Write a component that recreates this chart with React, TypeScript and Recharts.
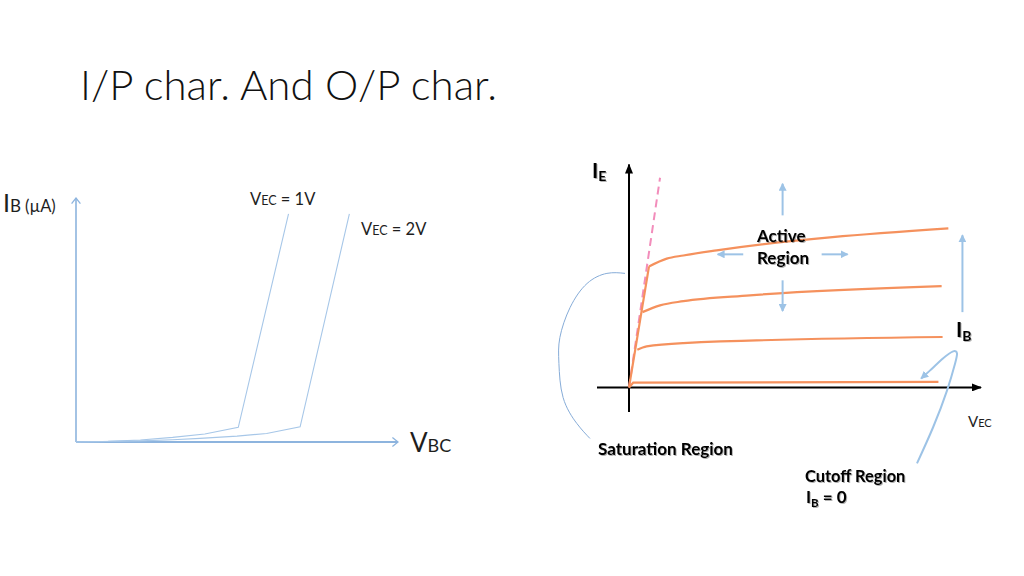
import React from 'react';
import { LineChart, Line, XAxis, YAxis } from 'recharts';

// ---------- Input characteristics (left): IB (µA) vs VBC (V) ----------
const inVec1V = [
  { x: 0, y: 0 },
  { x: 0.1, y: 0.25 },
  { x: 0.2, y: 0.8 },
  { x: 0.3, y: 1.9 },
  { x: 0.4, y: 3.3 },
  { x: 0.504, y: 6.0 },
  { x: 0.66, y: 93.5 },
];
const inVec2V = [
  { x: 0, y: 0 },
  { x: 0.2, y: 0.45 },
  { x: 0.3, y: 0.95 },
  { x: 0.385, y: 1.5 },
  { x: 0.5, y: 2.4 },
  { x: 0.592, y: 3.5 },
  { x: 0.696, y: 6.2 },
  { x: 0.849, y: 93.5 },
];
const inAxisY = [{ x: 0, y: 0 }, { x: 0, y: 100 }];
const inAxisX = [{ x: 0, y: 0 }, { x: 1, y: 0 }];

// ---------- Output characteristics (right): IE vs VEC ----------
const outSatEdge = [{ x: 0, y: 0 }, { x: 0.625, y: 5.4 }];
const outIb3 = [
  { x: 0.625, y: 5.4 },
  { x: 1.18, y: 5.75 },
  { x: 1.7, y: 5.89 },
  { x: 2.74, y: 6.12 },
  { x: 9.98, y: 7.1 },
];
const outIb2 = [
  { x: 0.42, y: 3.36 },
  { x: 0.97, y: 3.66 },
  { x: 1.7, y: 3.85 },
  { x: 3.78, y: 4.11 },
  { x: 9.77, y: 4.52 },
];
const outIb1 = [
  { x: 0.26, y: 1.68 },
  { x: 0.55, y: 1.83 },
  { x: 1.7, y: 1.98 },
  { x: 9.8, y: 2.25 },
];
const outIb0 = [
  { x: 0, y: 0 },
  { x: 0.13, y: 0.21 },
  { x: 9.67, y: 0.25 },
];
const outSatLimit = [{ x: 0, y: 0 }, { x: 0.97, y: 9.36 }];
const outAxisX = [{ x: -1, y: 0 }, { x: 11, y: 0 }];
const outAxisY = [{ x: 0, y: -1.1 }, { x: 0, y: 9.95 }];

// annotation arrows
const arrowUp = [{ x: 4.8, y: 7.68 }, { x: 4.8, y: 9.09 }];
const arrowDown = [{ x: 4.8, y: 4.78 }, { x: 4.8, y: 3.41 }];
const arrowLeft = [{ x: 3.57, y: 5.94 }, { x: 2.77, y: 5.94 }];
const arrowRight = [{ x: 6.02, y: 5.94 }, { x: 6.83, y: 5.94 }];
const arrowIb = [{ x: 10.42, y: 3.36 }, { x: 10.42, y: 6.79 }];
const cutoffHook = [
  { x: 9.0, y: -3.39 },
  { x: 9.5, y: -1.79 },
  { x: 9.94, y: -0.13 },
  { x: 10.19, y: 1.07 },
  { x: 10.25, y: 1.52 },
  { x: 10.13, y: 1.61 },
  { x: 9.81, y: 1.29 },
  { x: 9.41, y: 0.76 },
  { x: 9.13, y: 0.4 },
];
const satBrace = [
  { x: -0.125, y: 5.09 },
  { x: -0.69, y: 5.09 },
  { x: -1.31, y: 4.64 },
  { x: -1.84, y: 3.57 },
  { x: -2.16, y: 2.23 },
  { x: -2.19, y: 1.07 },
  { x: -2.06, y: -0.45 },
  { x: -1.63, y: -1.61 },
  { x: -1.22, y: -2.28 },
];

const FONT = 'Lato, "Open Sans", sans-serif';
const ORANGE = '#F5915D';
const LBLUE = '#9DC3E6';
const AXBLUE = '#8DB4DE';

function Defs() {
  return (
    <svg width={0} height={0} style={{ position: 'absolute', left: 0, top: 0 }}>
      <defs>
        <marker id="chevBlue" viewBox="0 0 7 10" refX={6.2} refY={5} markerWidth={7} markerHeight={10} markerUnits="userSpaceOnUse" orient="auto">
          <path d="M0.6,0.6 L6.2,5 L0.6,9.4" fill="none" stroke={AXBLUE} strokeWidth={1.3} />
        </marker>
        <marker id="triBlack" viewBox="0 0 10 8" refX={9} refY={4} markerWidth={10} markerHeight={8} markerUnits="userSpaceOnUse" orient="auto">
          <path d="M0,0 L10,4 L0,8 z" fill="#000" />
        </marker>
        <marker id="triBlue" viewBox="0 0 8 8" refX={7} refY={4} markerWidth={8} markerHeight={8} markerUnits="userSpaceOnUse" orient="auto">
          <path d="M0,0 L8,4 L0,8 z" fill={LBLUE} />
        </marker>
        <filter id="txtShadow" x="-10%" y="-30%" width="130%" height="170%">
          <feDropShadow dx={1} dy={1} stdDeviation={0.7} floodColor="#000" floodOpacity={0.3} />
        </filter>
      </defs>
    </svg>
  );
}

function L(props: any) {
  return <Line dataKey="y" dot={false} activeDot={false} isAnimationActive={false} legendType="none" {...props} />;
}

function LeftChart() {
  return (
    <LineChart
      width={460}
      height={320}
      margin={{ top: 48, right: 62, bottom: 28, left: 76 }}
      style={{ position: 'absolute', left: 0, top: 150 }}
    >
      <XAxis type="number" dataKey="x" domain={[0, 1]} hide />
      <YAxis type="number" dataKey="y" domain={[0, 100]} hide />
      <L data={inAxisX} type="linear" stroke={AXBLUE} strokeWidth={2} markerEnd="url(#chevBlue)" />
      <L data={inAxisY} type="linear" stroke={AXBLUE} strokeWidth={1.6} markerEnd="url(#chevBlue)" />
      <L data={inVec1V} type="linear" stroke="#A7C7E8" strokeWidth={1.1} />
      <L data={inVec2V} type="linear" stroke="#A7C7E8" strokeWidth={1.1} />
    </LineChart>
  );
}

function RightChart() {
  return (
    <LineChart
      width={500}
      height={360}
      margin={{ top: 11, right: 7, bottom: 13, left: 13 }}
      style={{ position: 'absolute', left: 520, top: 130 }}
    >
      <XAxis type="number" dataKey="x" domain={[-3, 12]} hide />
      <YAxis type="number" dataKey="y" domain={[-4, 11]} hide />
      <L data={outAxisX} type="linear" stroke="#000" strokeWidth={2} markerEnd="url(#triBlack)" />
      <L data={outAxisY} type="linear" stroke="#000" strokeWidth={2} markerEnd="url(#triBlack)" />
      <L data={outSatLimit} type="linear" stroke="#F28DBB" strokeWidth={2} strokeDasharray="8 5" />
      <L data={outIb0} type="linear" stroke={ORANGE} strokeWidth={2.2} />
      <L data={outIb1} type="monotone" stroke={ORANGE} strokeWidth={2.2} />
      <L data={outIb2} type="monotone" stroke={ORANGE} strokeWidth={2.2} />
      <L data={outIb3} type="monotone" stroke={ORANGE} strokeWidth={2.2} />
      <L data={outSatEdge} type="linear" stroke={ORANGE} strokeWidth={2.2} />
      <L data={arrowUp} type="linear" stroke={LBLUE} strokeWidth={2} markerEnd="url(#triBlue)" />
      <L data={arrowDown} type="linear" stroke={LBLUE} strokeWidth={2} markerEnd="url(#triBlue)" />
      <L data={arrowLeft} type="linear" stroke={LBLUE} strokeWidth={2} markerEnd="url(#triBlue)" />
      <L data={arrowRight} type="linear" stroke={LBLUE} strokeWidth={2} markerEnd="url(#triBlue)" />
      <L data={arrowIb} type="linear" stroke={LBLUE} strokeWidth={2} markerEnd="url(#triBlue)" />
      <L data={cutoffHook} type="natural" stroke={LBLUE} strokeWidth={2} markerEnd="url(#triBlue)" />
      <L data={satBrace} type="natural" stroke="#86ACD8" strokeWidth={1} />
    </LineChart>
  );
}

function Texts() {
  const dark = '#1E1E1E';
  const sh = 'url(#txtShadow)';
  return (
    <svg width={1024} height={576} style={{ position: 'absolute', left: 0, top: 0, pointerEvents: 'none' }} fontFamily={FONT}>
      <text x={80} y={100} fontSize={42} fontWeight={300} fill="#111">I/P char. And O/P char.</text>

      <text x={3} y={212} fill={dark}>
        <tspan fontSize={25}>I</tspan>
        <tspan fontSize={17}>B</tspan>
        <tspan fontSize={16.5} dx={4}>(µA)</tspan>
      </text>
      <text x={250} y={205} fill={dark}>
        <tspan fontSize={16.5}>V</tspan>
        <tspan fontSize={12.5}>EC</tspan>
        <tspan fontSize={16.5}> = 1V</tspan>
      </text>
      <text x={361} y={235} fill={dark}>
        <tspan fontSize={16.5}>V</tspan>
        <tspan fontSize={12.5}>EC</tspan>
        <tspan fontSize={16.5}> = 2V</tspan>
      </text>
      <text x={410} y={452} fill={dark}>
        <tspan fontSize={26}>V</tspan>
        <tspan fontSize={18}>BC</tspan>
      </text>

      <text x={592} y={178} fill="#000" fontWeight={700} filter={sh}>
        <tspan fontSize={21}>I</tspan>
        <tspan fontSize={14} dy={3}>E</tspan>
      </text>
      <text x={956} y={337} fill="#000" fontWeight={700} filter={sh}>
        <tspan fontSize={21}>I</tspan>
        <tspan fontSize={14} dy={4}>B</tspan>
      </text>
      <text x={968} y={427} fill={dark}>
        <tspan fontSize={15}>V</tspan>
        <tspan fontSize={11}>EC</tspan>
      </text>

      <g fontWeight={700} fill="#000" filter={sh}>
        <text x={757} y={241.5} fontSize={17}>Active</text>
        <text x={757} y={263.5} fontSize={17}>Region</text>
        <text x={598} y={455} fontSize={17}>Saturation Region</text>
        <text x={805} y={482} fontSize={16.4}>Cutoff Region</text>
        <text x={806} y={503}>
          <tspan fontSize={17}>I</tspan>
          <tspan fontSize={11.5} dy={4}>B</tspan>
          <tspan fontSize={17} dy={-4}> = 0</tspan>
        </text>
      </g>
    </svg>
  );
}

export default function App() {
  return (
    <div style={{ position: 'absolute', left: 0, top: 0, width: 1024, height: 576, background: '#fff', overflow: 'hidden', fontFamily: FONT }}>
      <Defs />
      <LeftChart />
      <RightChart />
      <Texts />
    </div>
  );
}
